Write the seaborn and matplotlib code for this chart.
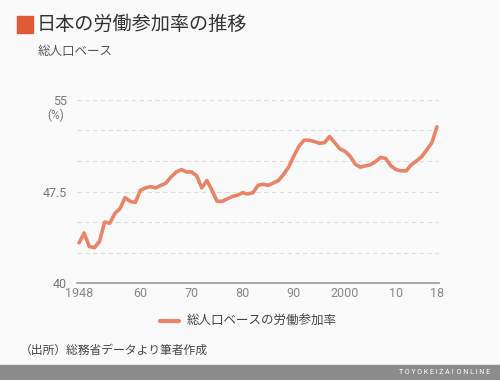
import matplotlib
matplotlib.use("Agg")
import matplotlib.pyplot as plt
import seaborn as sns
import pandas as pd
from matplotlib.patches import Rectangle

# data (percent)
years = list(range(1948, 2019))
rate = [43.3, 44.1, 43.0, 42.9, 43.4, 45.0, 44.9, 45.7, 46.1, 47.0,
        46.7, 46.6, 47.6, 47.8, 47.9, 47.8, 48.0, 48.2, 48.7, 49.1,
        49.3, 49.1, 49.1, 48.8, 47.8, 48.4, 47.6, 46.7, 46.7, 46.9,
        47.1, 47.2, 47.4, 47.3, 47.4, 48.0, 48.1, 48.0, 48.2, 48.4,
        48.9, 49.5, 50.4, 51.2, 51.7, 51.7, 51.6, 51.45, 51.5, 52.0,
        51.5, 51.0, 50.8, 50.4, 49.75, 49.5, 49.6, 49.7, 49.95, 50.3,
        50.2, 49.6, 49.3, 49.2, 49.2, 49.7, 50.0, 50.35, 50.9, 51.5,
        52.8]
xticks = [1948, 1960, 1970, 1980, 1990, 2000, 2010, 2018]
xlabels = ["1948", "60", "70", "80", "90", "2000", "10", "18"]
series_name = "総人口ベースの労働参加率"

df = pd.DataFrame({"year": years, "rate": rate, "series": series_name})

sns.set_style("white")
plt.rcParams["font.family"] = ["Noto Sans CJK JP", "DejaVu Sans"]

bg = "#fafafa"
line_color = "#ea8468"
fig = plt.figure(figsize=(5, 3.8), dpi=100, facecolor=bg)
ax = fig.add_axes([0.154, 0.255, 0.724, 0.482], facecolor=bg)

sns.lineplot(data=df, x="year", y="rate", hue="series", palette=[line_color],
             linewidth=2.6, ax=ax, legend=False, solid_capstyle="round")

ax.set_xlim(1947.6, 2018.4)
ax.set_ylim(40, 55)
ax.set_yticks([40, 47.5, 55])
ax.set_yticklabels(["40", "47.5", "55"])
for g in [42.5, 45, 47.5, 50, 52.5, 55]:
    ax.axhline(g, color="#dddddd", lw=0.8, ls=(0, (4, 3)), zorder=0)
ax.set_xticks(xticks)
ax.set_xticklabels(xlabels)
ax.set_xlabel("")
ax.set_ylabel("")
for s in ["top", "right", "left"]:
    ax.spines[s].set_visible(False)
ax.spines["bottom"].set_color("#999999")
ax.spines["bottom"].set_linewidth(1.2)
ax.tick_params(axis="x", colors="#888888", labelsize=9, length=3,
               width=1, direction="inout", pad=1)
ax.tick_params(axis="y", colors="#777777", labelsize=9, length=0, pad=7)
for lab in ax.get_xticklabels() + ax.get_yticklabels():
    lab.set_fontfamily("Roboto")
ax.text(64 / 500, 1 - 115 / 380, "(%)", transform=fig.transFigure,
        fontsize=8.5, color="#777777", ha="right", va="center",
        family="Roboto")

# title block
fig.patches.append(Rectangle((17 / 500, 1 - 33 / 380), 16 / 500, 17 / 380,
                             transform=fig.transFigure, color="#e05a3a"))
fig.text(37 / 500, 1 - 24 / 380, "日本の労働参加率の推移", fontsize=13.8,
         color="#333333", va="center", ha="left")
fig.text(38 / 500, 1 - 51 / 380, "総人口ベース", fontsize=9,
         color="#555555", va="center", ha="left")

# legend
fig.lines.append(plt.Line2D([160 / 500, 179 / 500], [1 - 321 / 380] * 2,
                            transform=fig.transFigure, color=line_color,
                            lw=3, solid_capstyle="round"))
fig.text(187 / 500, 1 - 321 / 380, series_name, fontsize=9,
         color="#444444", va="center", ha="left")

# source
fig.text(20 / 500, 1 - 350 / 380, "（出所）総務省データより筆者作成",
         fontsize=8.5, color="#444444", va="center", ha="left")

# bottom bar
fig.patches.append(Rectangle((0, 0), 1, 15 / 380, transform=fig.transFigure,
                             color="#8c8c8c"))
fig.text(490 / 500, 7.5 / 380, "T O Y O K E I Z A I  O N L I N E",
         fontsize=5, color="white", ha="right", va="center",
         family="Roboto")

fig.savefig("out.png", dpi=100, facecolor=bg)
